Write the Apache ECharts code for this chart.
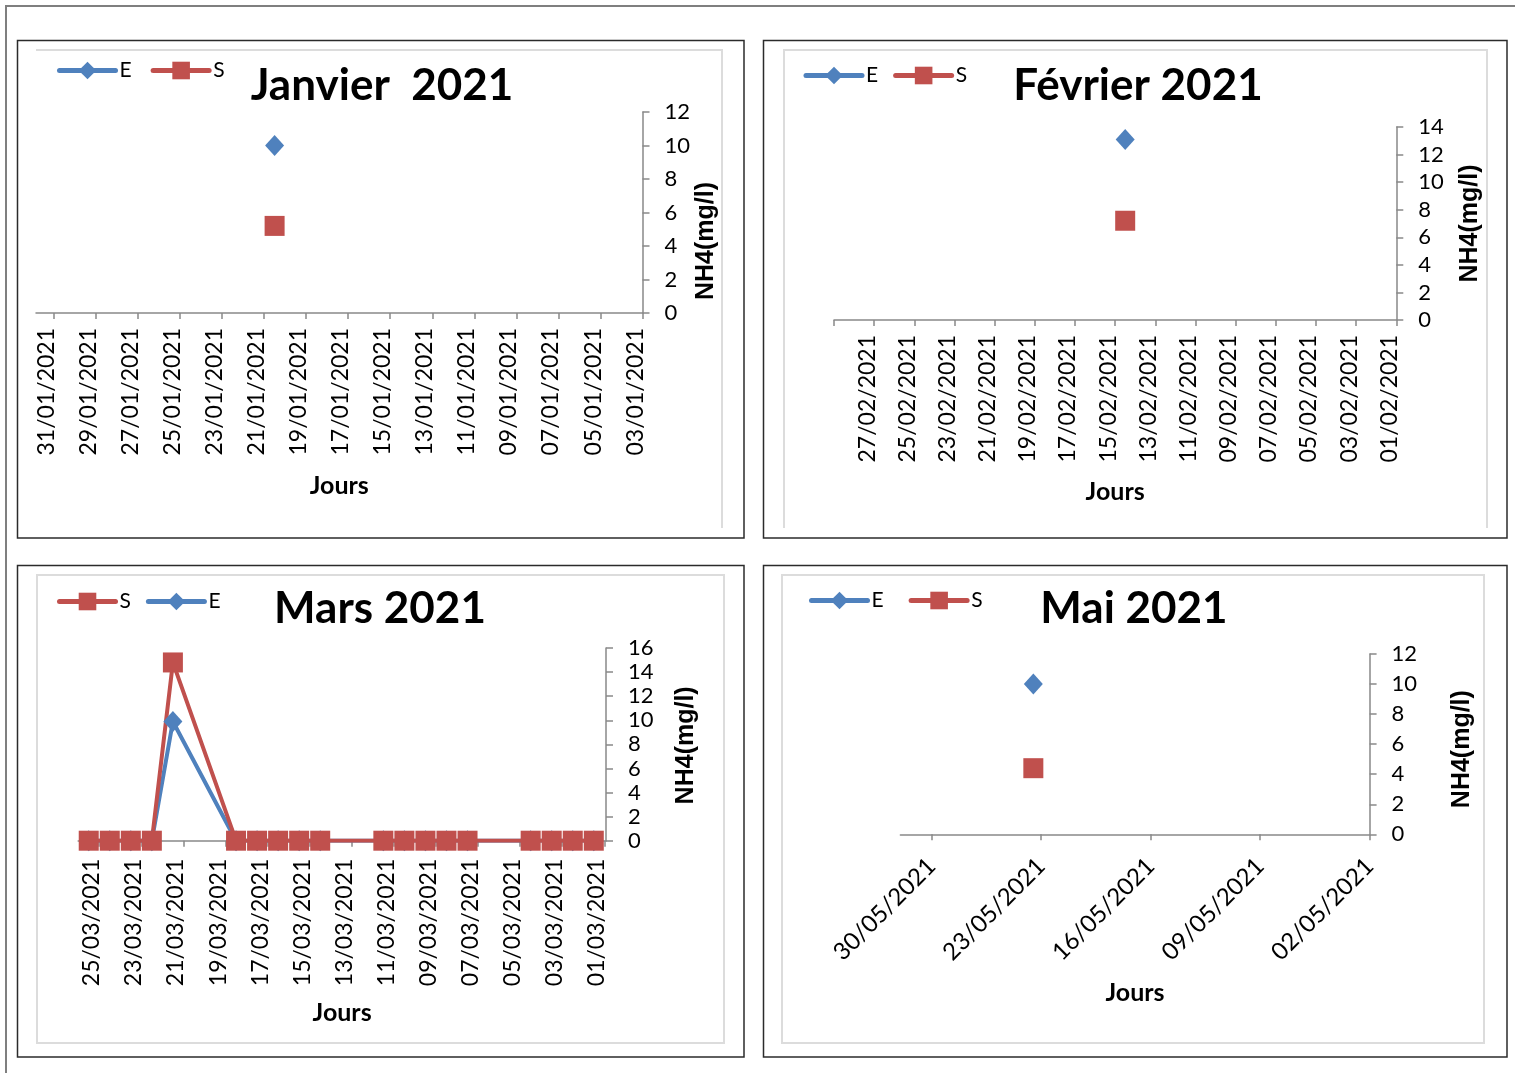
<!DOCTYPE html>
<html>
<head>
<meta charset="utf-8">
<title>NH4 (mg/l) – 2021</title>
<script src="https://cdn.jsdelivr.net/npm/echarts@6/dist/echarts.min.js"></script>
<style>
  html, body { margin: 0; padding: 0; background: #ffffff; }
  #chart { width: 1515px; height: 1073px; }
</style>
</head>
<body>
<div id="chart"></div>
<script>
// ---- Janvier 2021 ----
const janDates = ['20/01/2021'];
const janE = [10.0];
const janS = [5.2];
const janTickLabels = ['31/01/2021', '29/01/2021', '27/01/2021', '25/01/2021', '23/01/2021',
  '21/01/2021', '19/01/2021', '17/01/2021', '15/01/2021', '13/01/2021', '11/01/2021',
  '09/01/2021', '07/01/2021', '05/01/2021', '03/01/2021'];

// ---- Février 2021 ----
const febDates = ['14/02/2021'];
const febE = [13.1];
const febS = [7.2];
const febTickLabels = ['27/02/2021', '25/02/2021', '23/02/2021', '21/02/2021', '19/02/2021',
  '17/02/2021', '15/02/2021', '13/02/2021', '11/02/2021', '09/02/2021', '07/02/2021',
  '05/02/2021', '03/02/2021', '01/02/2021'];

// ---- Mars 2021 ----
const marDates = ['25/03/2021', '24/03/2021', '23/03/2021', '22/03/2021', '21/03/2021',
  '18/03/2021', '17/03/2021', '16/03/2021', '15/03/2021', '14/03/2021',
  '11/03/2021', '10/03/2021', '09/03/2021', '08/03/2021', '07/03/2021',
  '04/03/2021', '03/03/2021', '02/03/2021', '01/03/2021'];
const marE = [0, 0, 0, 0, 9.9, 0, 0, 0, 0, 0, 0, 0, 0, 0, 0, 0, 0, 0, 0];
const marS = [0, 0, 0, 0, 14.8, 0, 0, 0, 0, 0, 0, 0, 0, 0, 0, 0, 0, 0, 0];
const marTickLabels = ['25/03/2021', '23/03/2021', '21/03/2021', '19/03/2021', '17/03/2021',
  '15/03/2021', '13/03/2021', '11/03/2021', '09/03/2021', '07/03/2021', '05/03/2021',
  '03/03/2021', '01/03/2021'];

// ---- Mai 2021 ----
const maiDates = ['23/05/2021'];
const maiE = [10.0];
const maiS = [4.4];
const maiTickLabels = ['30/05/2021', '23/05/2021', '16/05/2021', '09/05/2021', '02/05/2021'];

// ---- styling ----
const BLUE = '#4F81BD';
const RED = '#C0504D';
const AXIS = '#898989';
const FONT = 'Lato, "Open Sans", sans-serif';
const NAME_FONT = '"Liberation Sans", Arial, sans-serif';

const dayOf = s => parseInt(s.slice(0, 2), 10);
const points = (dates, vals) => dates.map((d, i) => [dayOf(d), vals[i]]);

// Each panel: a reversed day axis (right = earliest day) with the value axis on the right.
// Ticks sit on day boundaries (x.5), labels on the days themselves.
const panels = [
  {
    title: 'Janvier  2021', titleX: 382, titleTop: 64,
    legend: ['E', 'S'], legendLeft: 57, legendTop: 60, legendGap: 19,
    grid: { left: 36, top: 112, width: 606.5, height: 201 },
    xMin: 2.5, xMax: 31.35, tickStart: 2.5, tickStep: 2, labels: janTickLabels, labelShift: -0.15,
    rotate: 90, labelMargin: 15, labelSize: 23,
    yMax: 12, xNameGap: 160, yNameGap: 49, yNamePad: [0, 57, 0, 0],
    dates: janDates, E: janE, S: janS
  },
  {
    title: 'Février 2021', titleX: 1138, titleTop: 64,
    legend: ['E', 'S'], legendLeft: 803.5, legendTop: 65, legendGap: 15,
    grid: { left: 834, top: 127, width: 562.3, height: 193 },
    xMin: 0.5, xMax: 28.5, tickStart: 0.5, tickStep: 2, labels: febTickLabels, labelShift: -0.15,
    rotate: 90, labelMargin: 15, labelSize: 23,
    yMax: 14, xNameGap: 159, yNameGap: 61, yNamePad: [0, 0, 0, 0],
    dates: febDates, E: febE, S: febS
  },
  {
    title: 'Mars 2021', titleX: 380, titleTop: 587,
    legend: ['S', 'E'], legendLeft: 57, legendTop: 591, legendGap: 15,
    grid: { left: 78.2, top: 648, width: 527.8, height: 192.7 },
    xMin: 0.42, xMax: 25.5, tickStart: 0.5, tickStep: 2, labels: marTickLabels, labelShift: -0.15,
    rotate: 90, labelMargin: 18, labelSize: 23,
    yMax: 16, xNameGap: 160, yNameGap: 68, yNamePad: [0, 2, 0, 0],
    dates: marDates, E: marE, S: marS
  },
  {
    title: 'Mai 2021', titleX: 1134, titleTop: 587,
    legend: ['E', 'S'], legendLeft: 809, legendTop: 590, legendGap: 25,
    grid: { left: 900.4, top: 654, width: 469.2, height: 180.3 },
    xMin: 1.5, xMax: 31.5, tickStart: 1.5, tickStep: 7, labels: maiTickLabels, labelShift: -0.5,
    rotate: 45, labelMargin: 28, labelSize: 24,
    yMax: 12, xNameGap: 146, yNameGap: 80, yNamePad: [0, 10, 0, 0],
    dates: maiDates, E: maiE, S: maiS
  }
];

const option = {
  animation: false,
  backgroundColor: '#ffffff',
  title: [], legend: [], grid: [], xAxis: [], yAxis: [], series: [],
  graphic: [
    // page frame
    { type: 'polyline', silent: true, shape: { points: [[6, 1073], [6, 6], [1515, 6]] },
      style: { stroke: '#7f7f7f', lineWidth: 2, fill: null } },
    // panel borders
    { type: 'rect', silent: true, shape: { x: 17.5, y: 40.5, width: 726.5, height: 497.5 },
      style: { stroke: '#2b2b2b', lineWidth: 1.5, fill: null } },
    { type: 'rect', silent: true, shape: { x: 763.5, y: 40.5, width: 743.5, height: 497.5 },
      style: { stroke: '#2b2b2b', lineWidth: 1.5, fill: null } },
    { type: 'rect', silent: true, shape: { x: 17.5, y: 565.5, width: 726.5, height: 491.5 },
      style: { stroke: '#2b2b2b', lineWidth: 1.5, fill: null } },
    { type: 'rect', silent: true, shape: { x: 763.5, y: 565.5, width: 743.5, height: 491.5 },
      style: { stroke: '#2b2b2b', lineWidth: 1.5, fill: null } },
    // inner chart-area outlines
    { type: 'polyline', silent: true, shape: { points: [[36, 50], [722, 50], [722, 528]] },
      style: { stroke: '#dcdcdc', lineWidth: 2, fill: null } },
    { type: 'polyline', silent: true, shape: { points: [[784, 528], [784, 50], [1487, 50], [1487, 528]] },
      style: { stroke: '#dcdcdc', lineWidth: 2, fill: null } },
    { type: 'rect', silent: true, shape: { x: 37, y: 575, width: 687, height: 468 },
      style: { stroke: '#dcdcdc', lineWidth: 2, fill: null } },
    { type: 'rect', silent: true, shape: { x: 782, y: 575, width: 702, height: 468 },
      style: { stroke: '#dcdcdc', lineWidth: 2, fill: null } }
  ]
};

panels.forEach((p, i) => {
  const ticks = [];
  for (let v = p.tickStart; v <= p.xMax + 1e-9; v += p.tickStep) ticks.push(v);
  const labelPos = p.labels.map(s => dayOf(s) + p.labelShift);
  const labelText = {};
  p.labels.forEach((s, k) => { labelText[labelPos[k]] = s; });

  option.title.push({
    text: p.title, left: p.titleX, top: p.titleTop, textAlign: 'center', padding: 0,
    textStyle: { fontFamily: FONT, fontWeight: 'bold', fontSize: 44, color: '#000000' }
  });

  option.legend.push({
    data: p.legend, left: p.legendLeft, top: p.legendTop, orient: 'horizontal',
    padding: 0, itemWidth: 56, itemHeight: 22, itemGap: p.legendGap, selectedMode: false,
    lineStyle: { width: 5, cap: 'round' },
    textStyle: { fontFamily: FONT, fontSize: 21, color: '#000000', padding: [0, 0, 0, -1] }
  });

  option.grid.push(Object.assign({ containLabel: false }, p.grid));

  option.xAxis.push({
    type: 'value', gridIndex: i, inverse: true, min: p.xMin, max: p.xMax,
    name: 'Jours', nameLocation: 'middle', nameGap: p.xNameGap,
    nameTextStyle: { fontFamily: FONT, fontWeight: 'bold', fontSize: 25, color: '#000000' },
    axisLine: { show: true, onZero: false, lineStyle: { color: AXIS, width: 1.5 } },
    axisTick: { show: true, inside: false, length: 6, customValues: ticks,
      lineStyle: { color: AXIS, width: 1.5 } },
    axisLabel: { show: true, rotate: p.rotate, margin: p.labelMargin, customValues: labelPos,
      fontFamily: FONT, fontSize: p.labelSize, color: '#000000',
      formatter: v => labelText[v] || '' },
    splitLine: { show: false }
  });

  option.yAxis.push({
    type: 'value', gridIndex: i, position: 'right', min: 0, max: p.yMax, interval: 2,
    name: 'NH4(mg/l)', nameLocation: 'middle', nameRotate: 90, nameGap: p.yNameGap,
    nameTextStyle: { fontFamily: NAME_FONT, fontWeight: 'bold', fontSize: 25, color: '#000000',
      padding: p.yNamePad },
    axisLine: { show: true, lineStyle: { color: AXIS, width: 1.5 } },
    axisTick: { show: true, inside: false, length: 7, lineStyle: { color: AXIS, width: 1.5 } },
    axisLabel: { show: true, margin: 22, fontFamily: FONT, fontSize: 22, color: '#000000' },
    splitLine: { show: false }
  });

  // E first, S drawn above it
  option.series.push({
    name: 'E', type: 'line', xAxisIndex: i, yAxisIndex: i,
    data: points(p.dates, p.E),
    symbol: 'diamond', symbolSize: [19, 21], showSymbol: true,
    itemStyle: { color: BLUE }, lineStyle: { color: BLUE, width: 4 },
    emphasis: { disabled: true }
  });
  option.series.push({
    name: 'S', type: 'line', xAxisIndex: i, yAxisIndex: i,
    data: points(p.dates, p.S),
    symbol: 'rect', symbolSize: 20, showSymbol: true,
    itemStyle: { color: RED }, lineStyle: { color: RED, width: 4 },
    emphasis: { disabled: true }
  });
});

const chart = echarts.init(document.getElementById('chart'), null, { renderer: 'canvas' });
chart.setOption(option);
</script>
</body>
</html>
